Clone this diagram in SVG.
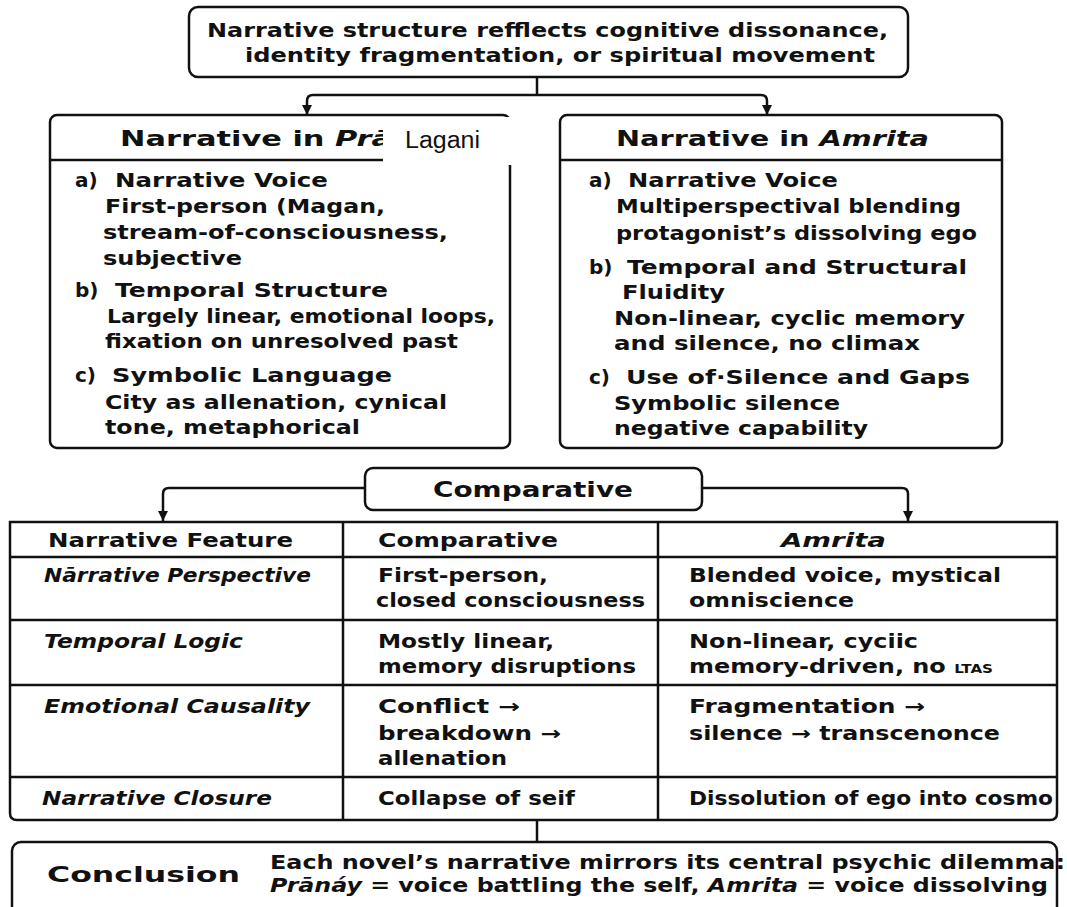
<svg xmlns="http://www.w3.org/2000/svg" width="1067" height="907" viewBox="0 0 1067 907">
<style>
.box{fill:#fff;stroke:#111;stroke-width:2.5}
.ln{fill:none;stroke:#111;stroke-width:2.5}
.t{font-family:"DejaVu Sans",sans-serif;fill:#111;font-weight:bold;font-size:19px}
.h{font-size:20px}
.hh{font-size:22px}
.i{font-style:italic}
.lag{font-family:"Liberation Sans",Arial,sans-serif;font-size:23px;fill:#111}
</style>
<defs>
<marker id="ah" viewBox="0 0 10 10" refX="10" refY="5" markerWidth="10" markerHeight="10" markerUnits="userSpaceOnUse" orient="auto">
<path d="M0,0 L10,5 L0,10 Z" fill="#111"/>
</marker>
</defs>
<rect width="1067" height="907" fill="#fff"/>

<g id="connectors">
<path class="ln" d="M537,77 V95"/>
<path class="ln" d="M537,95 H313 Q307,95 307,101 V115" marker-end="url(#ah)"/>
<path class="ln" d="M537,95 H761 Q767,95 767,101 V115" marker-end="url(#ah)"/>
<path class="ln" d="M365,488 H169 Q163,488 163,494 V521" marker-end="url(#ah)"/>
<path class="ln" d="M702,488 H902 Q908,488 908,494 V521" marker-end="url(#ah)"/>
<path class="ln" d="M537,821 V842"/>
</g>

<g id="top">
<rect class="box" x="189" y="7" width="719" height="70" rx="9"/>
<text class="t" x="207" y="37" textLength="681" lengthAdjust="spacingAndGlyphs">Narrative structure refflects cognitive dissonance,</text>
<text class="t" x="245" y="62" textLength="630" lengthAdjust="spacingAndGlyphs">identity fragmentation, or spiritual movement</text>
</g>

<g id="pranay">
<rect class="box" x="50" y="115" width="460" height="333" rx="7"/>
<path class="ln" d="M50,160 H510"/>
<text class="t hh" x="120" y="146" textLength="272" lengthAdjust="spacingAndGlyphs">Narrative in <tspan class="i">Prā</tspan></text>
<rect x="383" y="117" width="130" height="48" fill="#fff"/>
<text class="lag" x="405" y="148" textLength="75" lengthAdjust="spacingAndGlyphs">Lagani</text>
<text class="t h" x="75" y="187">a)</text>
<text class="t h" x="115" y="187" textLength="213" lengthAdjust="spacingAndGlyphs">Narrative Voice</text>
<text class="t" x="105" y="213" textLength="280" lengthAdjust="spacingAndGlyphs">First-person (Magan,</text>
<text class="t" x="103" y="239" textLength="345" lengthAdjust="spacingAndGlyphs">stream-of-consciousness,</text>
<text class="t" x="103" y="265" textLength="139" lengthAdjust="spacingAndGlyphs">subjective</text>
<text class="t h" x="75" y="297">b)</text>
<text class="t h" x="115" y="297" textLength="273" lengthAdjust="spacingAndGlyphs">Temporal Structure</text>
<text class="t" x="107" y="323" textLength="388" lengthAdjust="spacingAndGlyphs">Largely linear, emotional loops,</text>
<text class="t" x="105" y="348" textLength="353" lengthAdjust="spacingAndGlyphs">fixation on unresolved past</text>
<text class="t h" x="75" y="382">c)</text>
<text class="t h" x="112" y="382" textLength="280" lengthAdjust="spacingAndGlyphs">Symbolic Language</text>
<text class="t" x="105" y="409" textLength="342" lengthAdjust="spacingAndGlyphs">City as allenation, cynical</text>
<text class="t" x="105" y="434" textLength="255" lengthAdjust="spacingAndGlyphs">tone, metaphorical</text>
</g>

<g id="amrita">
<rect class="box" x="560" y="115" width="442" height="333" rx="7"/>
<path class="ln" d="M560,160 H1002"/>
<text class="t hh" x="616" y="146" textLength="313" lengthAdjust="spacingAndGlyphs">Narrative in <tspan class="i">Amrita</tspan></text>
<text class="t h" x="589" y="187">a)</text>
<text class="t h" x="628" y="187" textLength="210" lengthAdjust="spacingAndGlyphs">Narrative Voice</text>
<text class="t" x="616" y="213" textLength="345" lengthAdjust="spacingAndGlyphs">Multiperspectival blending</text>
<text class="t" x="616" y="240" textLength="361" lengthAdjust="spacingAndGlyphs">protagonist’s dissolving ego</text>
<text class="t h" x="589" y="274">b)</text>
<text class="t h" x="627" y="274" textLength="340" lengthAdjust="spacingAndGlyphs">Temporal and Structural</text>
<text class="t h" x="622" y="299" textLength="103" lengthAdjust="spacingAndGlyphs">Fluidity</text>
<text class="t" x="614" y="325" textLength="351" lengthAdjust="spacingAndGlyphs">Non-linear, cyclic memory</text>
<text class="t" x="614" y="350" textLength="306" lengthAdjust="spacingAndGlyphs">and silence, no climax</text>
<text class="t h" x="589" y="384">c)</text>
<text class="t h" x="626" y="384" textLength="344" lengthAdjust="spacingAndGlyphs">Use of·Silence and Gaps</text>
<text class="t" x="614" y="410" textLength="226" lengthAdjust="spacingAndGlyphs">Symbolic silence</text>
<text class="t" x="614" y="435" textLength="254" lengthAdjust="spacingAndGlyphs">negative capability</text>
</g>

<g id="comparative">
<rect class="box" x="365" y="468" width="337" height="42" rx="8"/>
<text class="t" style="font-size:22px" x="433" y="497" textLength="200" lengthAdjust="spacingAndGlyphs">Comparative</text>
</g>

<g id="table">
<path class="box" d="M10,522 H1057 V813 Q1057,820 1050,820 H17 Q10,820 10,813 Z"/>
<path class="ln" d="M10,557 H1057 M10,620 H1057 M10,685 H1057 M10,777 H1057 M343,522 V820 M658,522 V820"/>
<text class="t" x="48" y="547" textLength="245" lengthAdjust="spacingAndGlyphs">Narrative Feature</text>
<text class="t" x="378" y="547" textLength="180" lengthAdjust="spacingAndGlyphs">Comparative</text>
<text class="t i" x="781" y="547" textLength="105" lengthAdjust="spacingAndGlyphs">Amrita</text>
<text class="t i" x="44" y="582" textLength="267" lengthAdjust="spacingAndGlyphs">Nārrative Perspective</text>
<text class="t" x="378" y="582" textLength="170" lengthAdjust="spacingAndGlyphs">First-person,</text>
<text class="t" x="376" y="607" textLength="269" lengthAdjust="spacingAndGlyphs">closed consciousness</text>
<text class="t" x="689" y="582" textLength="312" lengthAdjust="spacingAndGlyphs">Blended voice, mystical</text>
<text class="t" x="689" y="607" textLength="165" lengthAdjust="spacingAndGlyphs">omniscience</text>
<text class="t i" x="44" y="648" textLength="199" lengthAdjust="spacingAndGlyphs">Temporal Logic</text>
<text class="t" x="378" y="648" textLength="176" lengthAdjust="spacingAndGlyphs">Mostly linear,</text>
<text class="t" x="378" y="673" textLength="258" lengthAdjust="spacingAndGlyphs">memory disruptions</text>
<text class="t" x="689" y="648" textLength="229" lengthAdjust="spacingAndGlyphs">Non-linear, cyciic</text>
<text class="t" x="689" y="673" textLength="304" lengthAdjust="spacingAndGlyphs">memory-driven, no <tspan style="font-size:12px">LTAS</tspan></text>
<text class="t i" x="44" y="713" textLength="266" lengthAdjust="spacingAndGlyphs">Emotional Causality</text>
<text class="t" x="378" y="713" textLength="142" lengthAdjust="spacingAndGlyphs">Conflict →</text>
<text class="t" x="378" y="740" textLength="183" lengthAdjust="spacingAndGlyphs">breakdown →</text>
<text class="t" x="378" y="765" textLength="129" lengthAdjust="spacingAndGlyphs">allenation</text>
<text class="t" x="689" y="713" textLength="236" lengthAdjust="spacingAndGlyphs">Fragmentation →</text>
<text class="t" x="689" y="740" textLength="311" lengthAdjust="spacingAndGlyphs">silence → transcenonce</text>
<text class="t i" x="42" y="805" textLength="230" lengthAdjust="spacingAndGlyphs">Narrative Closure</text>
<text class="t" x="378" y="805" textLength="197" lengthAdjust="spacingAndGlyphs">Collapse of seif</text>
<text class="t" x="689" y="805" textLength="364" lengthAdjust="spacingAndGlyphs">Dissolution of ego into cosmo</text>
</g>

<g id="conclusion">
<rect class="box" x="12" y="842" width="1045" height="75" rx="9"/>
<text class="t" style="font-size:21px" x="47" y="882" textLength="193" lengthAdjust="spacingAndGlyphs">Conclusion</text>
<text class="t" x="270" y="869" textLength="795" lengthAdjust="spacingAndGlyphs">Each novel’s narrative mirrors its central psychic dilemma:</text>
<text class="t" x="270" y="892" textLength="778" lengthAdjust="spacingAndGlyphs"><tspan class="i">Prānáy</tspan> = voice battling the self, <tspan class="i">Amrita</tspan> = voice dissolving</text>
</g>
</svg>
